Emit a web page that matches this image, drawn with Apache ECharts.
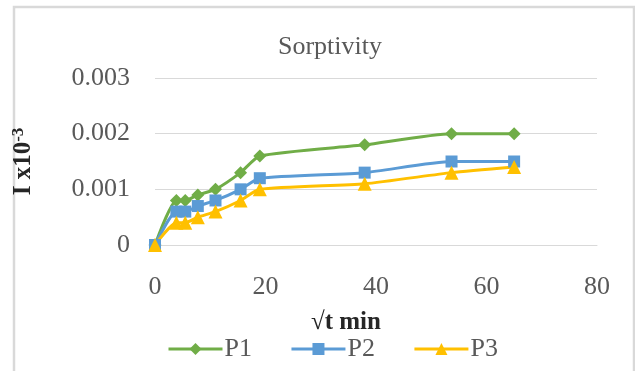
<!DOCTYPE html>
<html>
<head>
<meta charset="utf-8">
<script src="https://cdn.jsdelivr.net/npm/echarts@6/dist/echarts.min.js"></script>
<style>
  html, body { margin: 0; padding: 0; background: #ffffff; }
  #chart { width: 635px; height: 371px; }
</style>
</head>
<body>
<div id="chart"></div>
<script>
// Square root of elapsed time (√t, min)
const sqrtT = [0, 3.87, 5.48, 7.75, 10.95, 15.49, 18.97, 37.95, 53.67, 65.0];
// Cumulative infiltration I for each sample
const p1 = [0, 0.0008, 0.0008, 0.0009, 0.0010, 0.0013, 0.0016, 0.0018, 0.0020, 0.0020];
const p2 = [0, 0.0006, 0.0006, 0.0007, 0.0008, 0.0010, 0.0012, 0.0013, 0.0015, 0.0015];
const p3 = [0, 0.0004, 0.0004, 0.0005, 0.0006, 0.0008, 0.0010, 0.0011, 0.0013, 0.0014];
const seriesNames = ['P1', 'P2', 'P3'];
const xTicks = [0, 20, 40, 60, 80];
const yTicks = ['0', '0.001', '0.002', '0.003'];

const FONT = '"Liberation Serif", "Times New Roman", serif';
const GRAY = '#595959';
const DARK = '#262626';
const colors = ['#70AD47', '#5B9BD5', '#FFC000'];
const symbols = ['diamond', 'rect', 'triangle'];
const sizes = [13, 12, 14];

function pairs(ys) { return sqrtT.map((x, i) => [x, ys[i]]); }

const chart = echarts.init(document.getElementById('chart'));
chart.setOption({
  animation: false,
  backgroundColor: '#ffffff',
  title: {
    text: 'Sorptivity',
    left: 325, top: 29, textAlign: 'center',
    textStyle: { fontFamily: FONT, fontSize: 26, fontWeight: 'normal', color: GRAY }
  },
  grid: { left: 155, right: 38, top: 78, bottom: 126, containLabel: false },
  xAxis: {
    type: 'value', min: xTicks[0], max: xTicks[xTicks.length - 1], interval: 20,
    axisLine: { show: true, lineStyle: { color: '#d9d9d9', width: 1 } },
    axisTick: { show: false },
    splitLine: { show: false },
    axisLabel: { margin: 29, fontFamily: FONT, fontSize: 26, color: GRAY }
  },
  yAxis: {
    type: 'value', min: 0, max: 0.003, interval: 0.001,
    axisLine: { show: false }, axisTick: { show: false },
    splitLine: { lineStyle: { color: '#d9d9d9', width: 1 } },
    axisLabel: {
      margin: 25, fontFamily: FONT, fontSize: 26, color: GRAY,
      formatter: v => yTicks[Math.round(v * 1000)]
    },
    name: '{a|I x10}{s|-3}',
    nameLocation: 'middle', nameRotate: 90, nameGap: 118,
    nameTextStyle: {
      rich: {
        a: { fontFamily: FONT, fontSize: 25, fontWeight: 'bold', color: DARK },
        s: { fontFamily: FONT, fontSize: 17, fontWeight: 'bold', color: DARK, verticalAlign: 'top', padding: [0, 0, 10, 0] }
      }
    }
  },
  legend: {
    left: 162, top: 331, itemGap: 38, itemWidth: 54, itemHeight: 15,
    lineStyle: { width: 3 },
    textStyle: { fontFamily: FONT, fontSize: 26, color: GRAY, padding: [0, 0, 0, -3] },
    data: seriesNames
  },
  graphic: [
    { type: 'polyline', shape: { points: [[14, 371], [14, 7], [634, 7], [634, 371]] },
      style: { stroke: '#d9d9d9', lineWidth: 2.5, fill: null } },
    { type: 'text', left: 311, top: 310,
      style: { text: '√t min', fontFamily: FONT, fontSize: 25, fontWeight: 'bold', fill: DARK } }
  ],
  series: [p1, p2, p3].map((ys, i) => ({
    name: seriesNames[i], type: 'line', data: pairs(ys), smooth: 0.2,
    symbol: symbols[i], symbolSize: sizes[i], showSymbol: true,
    lineStyle: { color: colors[i], width: 3 },
    itemStyle: { color: colors[i] }
  }))
});
</script>
</body>
</html>
